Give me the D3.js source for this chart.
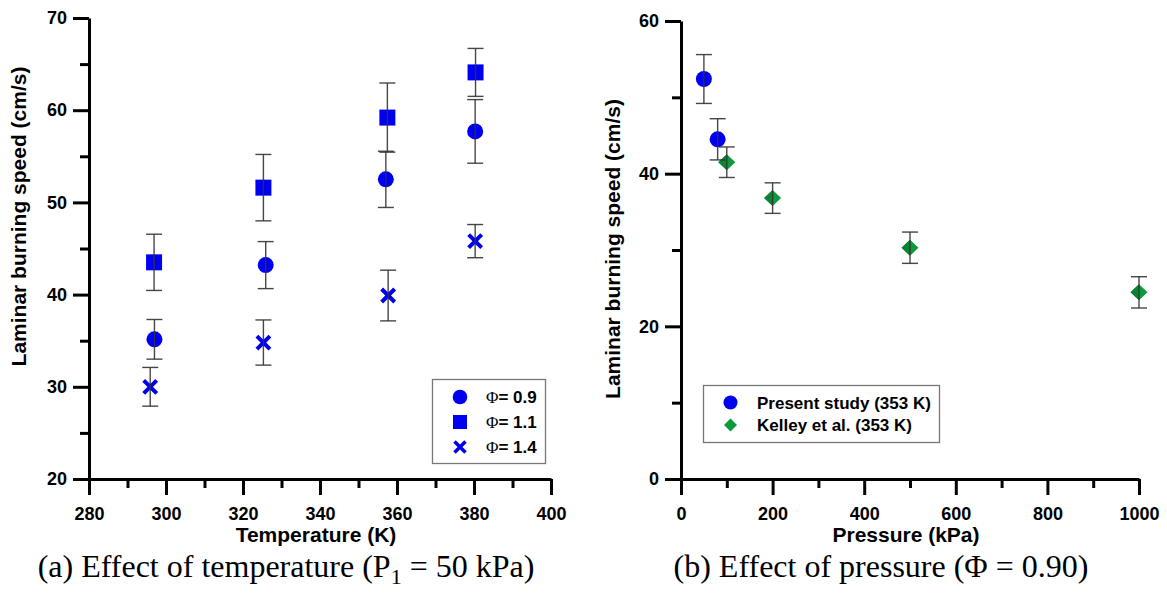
<!DOCTYPE html>
<html>
<head>
<meta charset="utf-8">
<script src="https://cdn.jsdelivr.net/npm/d3@7"></script>
<style>
  body { margin: 0; background: #fff; }
  svg { display: block; }
  .axis path, .axis line { stroke: #000; stroke-width: 3; }
  .axis text { font-family: "Liberation Sans", Arial, sans-serif; font-weight: bold; font-size: 18px; fill: #000; }
  .title { font-family: "Liberation Sans", Arial, sans-serif; font-weight: bold; font-size: 21px; fill: #000; }
  .legend text { font-family: "Liberation Sans", Arial, sans-serif; font-weight: bold; font-size: 17px; fill: #000; }
  .caption { font-family: "Liberation Serif", "Times New Roman", serif; font-size: 32px; fill: #000; }
</style>
</head>
<body>
<svg id="chart" width="1167" height="594"></svg>
<script>
// Panel (a): laminar burning speed vs. initial temperature at 50 kPa
const tempPhi09  = [297.0, 325.9, 357.1, 380.3];
const speedPhi09 = [35.15, 43.2, 52.5, 57.7];
const errPhi09   = [2.15, 2.55, 3.05, 3.45];

const tempPhi11  = [296.9, 325.3, 357.5, 380.4];
const speedPhi11 = [43.5, 51.6, 59.2, 64.1];
const errPhi11   = [3.05, 3.6, 3.75, 2.6];

const tempPhi14  = [295.9, 325.3, 357.7, 380.3];
const speedPhi14 = [30.0, 34.8, 39.9, 45.8];
const errPhi14   = [2.1, 2.45, 2.75, 1.8];

const phiLabels = ["0.9", "1.1", "1.4"];

// Panel (b): laminar burning speed vs. pressure at 353 K, phi = 0.90
const pressurePresent = [50, 80];
const speedPresent    = [52.4, 44.5];
const errPresent      = [3.2, 2.7];

const pressureKelley = [100, 200, 500, 1000];
const speedKelley    = [41.5, 36.8, 30.3, 24.45];
const errKelley      = [2.0, 2.0, 2.05, 2.05];

const legendLabelsB = ["Present study (353 K)", "Kelley et al. (353 K)"];

// Tick values
const tempMajor = [280, 300, 320, 340, 360, 380, 400];
const tempMinor = [290, 310, 330, 350, 370, 390];
const speedMajorA = [20, 30, 40, 50, 60, 70];
const speedMinorA = [25, 35, 45, 55, 65];
const presMajor = [0, 200, 400, 600, 800, 1000];
const presMinor = [100, 300, 500, 700, 900];
const speedMajorB = [0, 20, 40, 60];
const speedMinorB = [10, 30, 50];

const BLUE = "#0000f0";
const GREEN = "#0c9a3c";
const ERR = "#333";

const svg = d3.select("#chart");

const xT = d3.scaleLinear().domain([280, 400]).range([89, 551]);
const yT = d3.scaleLinear().domain([20, 70]).range([479, 18]);
const xP = d3.scaleLinear().domain([0, 1000]).range([681, 1139]);
const yP = d3.scaleLinear().domain([0, 60]).range([479, 21]);

function drawAxes(x, y, xMaj, xMin, yMaj, yMin) {
  const y0 = y.range()[0], x0 = x.range()[0];
  // minor ticks first
  svg.append("g").attr("class", "axis").attr("transform", `translate(0,${y0})`)
    .call(d3.axisBottom(x).tickValues(xMin).tickSize(9).tickFormat(""))
    .call(g => g.select(".domain").remove());
  svg.append("g").attr("class", "axis").attr("transform", `translate(${x0},0)`)
    .call(d3.axisLeft(y).tickValues(yMin).tickSize(9).tickFormat(""))
    .call(g => g.select(".domain").remove());
  // major ticks with labels
  svg.append("g").attr("class", "axis").attr("transform", `translate(0,${y0})`)
    .call(d3.axisBottom(x).tickValues(xMaj).tickSize(16).tickSizeOuter(0).tickPadding(12).tickFormat(d3.format("d")));
  svg.append("g").attr("class", "axis").attr("transform", `translate(${x0},0)`)
    .call(d3.axisLeft(y).tickValues(yMaj).tickSize(16).tickSizeOuter(0).tickPadding(6).tickFormat(d3.format("d")));
}

drawAxes(xT, yT, tempMajor, tempMinor, speedMajorA, speedMinorA);
drawAxes(xP, yP, presMajor, presMinor, speedMajorB, speedMinorB);

function rows(xs, ys, es) { return xs.map((v, i) => ({ x: v, y: ys[i], e: es[i] })); }

const circlePath = r => `M${-r},0A${r},${r} 0 1,0 ${r},0A${r},${r} 0 1,0 ${-r},0Z`;
const squarePath = s => `M${-s},${-s}H${s}V${s}H${-s}Z`;
const crossPath  = s => `M${-s},${-s}L${s},${s}M${s},${-s}L${-s},${s}`;
const diamondPath = (w, h) => `M0,${-h}L${w},0L0,${h}L${-w},0Z`;

function drawMarkers(data, x, y, kind) {
  const g = svg.append("g");
  const sel = g.selectAll("path").data(data).join("path")
    .attr("transform", d => `translate(${x(d.x)},${y(d.y)})`);
  if (kind === "circle") sel.attr("d", circlePath(8)).attr("fill", BLUE);
  if (kind === "square") sel.attr("d", squarePath(8)).attr("fill", BLUE);
  if (kind === "cross") sel.attr("d", crossPath(6.5)).attr("fill", "none").attr("stroke", BLUE).attr("stroke-width", 4);
  if (kind === "diamond") {
    sel.attr("d", diamondPath(8.5, 8)).attr("fill", GREEN);
    g.selectAll("path.shade").data(data).join("path").attr("class", "shade")
      .attr("transform", d => `translate(${x(d.x)},${y(d.y)})`)
      .attr("d", "M0,-8L0,8L-8.5,0Z").attr("fill", "#0a8434");
  }
}

function drawErrors(data, x, y) {
  const g = svg.append("g").attr("stroke", ERR).attr("stroke-width", 1.4).attr("stroke-opacity", 0.9);
  data.forEach(d => {
    const cx = x(d.x), top = y(d.y + d.e), bot = y(d.y - d.e);
    g.append("line").attr("x1", cx).attr("x2", cx).attr("y1", top).attr("y2", bot);
    g.append("line").attr("x1", cx - 8).attr("x2", cx + 8).attr("y1", top).attr("y2", top);
    g.append("line").attr("x1", cx - 8).attr("x2", cx + 8).attr("y1", bot).attr("y2", bot);
  });
}

// Panel (a) data
const a09 = rows(tempPhi09, speedPhi09, errPhi09);
const a11 = rows(tempPhi11, speedPhi11, errPhi11);
const a14 = rows(tempPhi14, speedPhi14, errPhi14);
drawMarkers(a09, xT, yT, "circle");
drawMarkers(a11, xT, yT, "square");
drawMarkers(a14, xT, yT, "cross");
drawErrors(a09, xT, yT);
drawErrors(a11, xT, yT);
drawErrors(a14, xT, yT);

// Panel (b) data
const bPresent = rows(pressurePresent, speedPresent, errPresent);
const bKelley = rows(pressureKelley, speedKelley, errKelley);
drawMarkers(bPresent, xP, yP, "circle");
drawMarkers(bKelley, xP, yP, "diamond");
drawErrors(bPresent, xP, yP);
drawErrors(bKelley, xP, yP);

// Legend (a)
const legA = svg.append("g").attr("class", "legend");
legA.append("rect").attr("x", 432.5).attr("y", 379.5).attr("width", 113).attr("height", 84)
  .attr("fill", "#fff").attr("stroke", "#777").attr("stroke-width", 1.3);
const legAKinds = ["circle", "square", "cross"];
phiLabels.forEach((lab, i) => {
  const cy = 397 + i * 25;
  const p = legA.append("path").attr("transform", `translate(460,${cy})`);
  if (legAKinds[i] === "circle") p.attr("d", circlePath(7.3)).attr("fill", BLUE);
  if (legAKinds[i] === "square") p.attr("d", squarePath(7)).attr("fill", BLUE);
  if (legAKinds[i] === "cross") p.attr("d", crossPath(5.5)).attr("fill", "none").attr("stroke", BLUE).attr("stroke-width", 3.5);
  const t = legA.append("text").attr("x", 486).attr("y", cy).attr("dy", "0.36em");
  t.append("tspan").attr("font-family", "Liberation Serif, serif").attr("font-weight", "normal").text("Φ");
  t.append("tspan").text("= " + lab);
});

// Legend (b)
const legB = svg.append("g").attr("class", "legend");
legB.append("rect").attr("x", 703.5).attr("y", 385.5).attr("width", 236).attr("height", 57)
  .attr("fill", "#fff").attr("stroke", "#777").attr("stroke-width", 1.3);
legB.append("path").attr("transform", "translate(730.5,402.5)").attr("d", circlePath(7)).attr("fill", BLUE);
legB.append("path").attr("transform", "translate(730.5,425)").attr("d", diamondPath(6.5, 6.5)).attr("fill", GREEN);
legendLabelsB.forEach((lab, i) => {
  legB.append("text").attr("x", 757).attr("y", 402.5 + i * 22.5).attr("dy", "0.36em").text(lab);
});

// Axis titles
svg.append("text").attr("class", "title").attr("text-anchor", "middle")
  .attr("x", 316).attr("y", 542).text("Temperature (K)");
svg.append("text").attr("class", "title").attr("text-anchor", "middle")
  .attr("x", 906).attr("y", 542).text("Pressure (kPa)");
svg.append("text").attr("class", "title").attr("text-anchor", "middle")
  .attr("transform", "translate(18,216.5) rotate(-90)").attr("dy", "0.36em")
  .text("Laminar burning speed (cm/s)");
svg.append("text").attr("class", "title").attr("text-anchor", "middle")
  .attr("transform", "translate(612,249) rotate(-90)").attr("dy", "0.36em")
  .text("Laminar burning speed (cm/s)");

// Captions
const capA = svg.append("text").attr("class", "caption").attr("text-anchor", "middle")
  .attr("x", 286).attr("y", 577);
capA.append("tspan").text("(a) Effect of temperature (P");
capA.append("tspan").attr("font-size", "22px").attr("dy", 7).text("1");
capA.append("tspan").attr("dy", -7).text(" = 50 kPa)");

svg.append("text").attr("class", "caption").attr("text-anchor", "middle")
  .attr("x", 881).attr("y", 577).text("(b) Effect of pressure (Φ = 0.90)");
</script>
</body>
</html>
